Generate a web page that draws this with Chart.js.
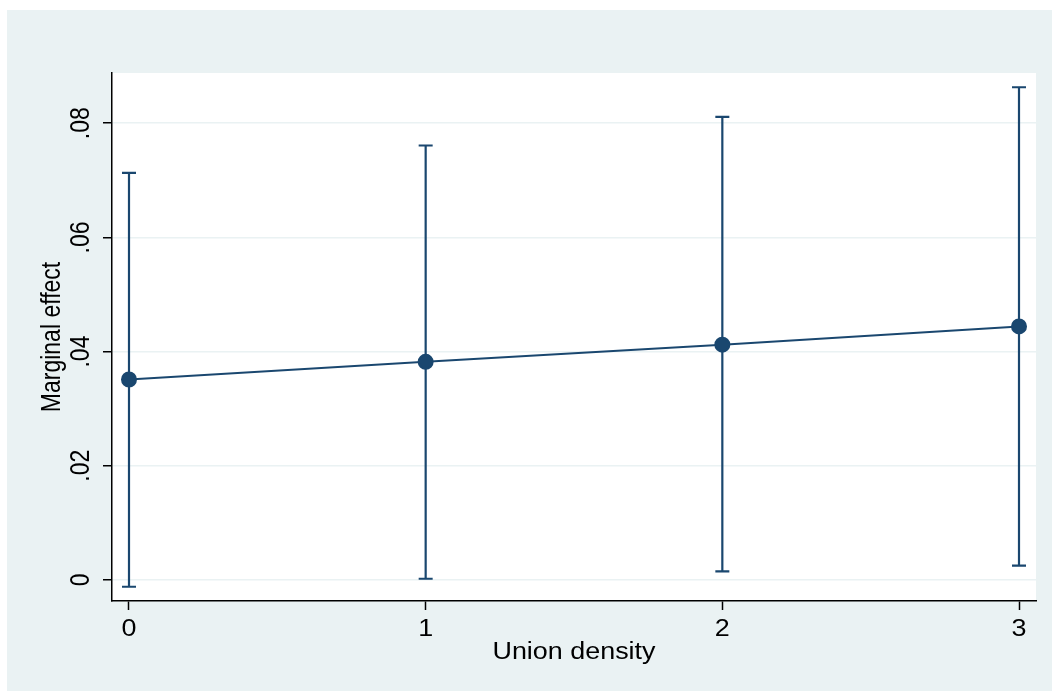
<!DOCTYPE html>
<html>
<head>
<meta charset="utf-8">
<script src="https://cdn.jsdelivr.net/npm/chart.js@4.4.1/dist/chart.umd.min.js"></script>
<style>
  html, body { margin: 0; padding: 0; background: #ffffff; }
  #bg { position: absolute; left: 7px; top: 10px; width: 1045px; height: 681px; background: #eaf2f3; }
  #bg canvas { display: block; }
</style>
</head>
<body>
<div id="bg"><canvas id="c" width="1045" height="681"></canvas></div>
<script>
// Data
const unionDensity = [0, 1, 2, 3];
const marginalEffect = [0.0351, 0.0382, 0.0412, 0.0444];
const ciUpper = [0.0713, 0.0761, 0.0811, 0.0863];
const ciLower = [-0.0012, 0.0002, 0.0015, 0.0025];
const yTickValues = [0, 0.02, 0.04, 0.06, 0.08];
const yTickLabels = ['0', '.02', '.04', '.06', '.08'];
const xTickValues = [0, 1, 2, 3];
const xTickLabels = ['0', '1', '2', '3'];
const xTitle = 'Union density';
const yTitle = 'Marginal effect';

const NAVY = '#1a476f';
const GRID = '#eaf2f3';
const FONT = '"Liberation Sans", Arial, Helvetica, sans-serif';
const STRETCH = 1.17;

const plotBg = {
  id: 'plotBg',
  beforeDraw(chart) {
    const { ctx, chartArea: a } = chart;
    ctx.save();
    ctx.fillStyle = '#ffffff';
    ctx.fillRect(a.left, a.top, a.right - a.left, a.bottom - a.top);
    ctx.restore();
  }
};

const errorBars = {
  id: 'errorBars',
  beforeDatasetsDraw(chart) {
    const { ctx, scales: { x, y } } = chart;
    ctx.save();
    ctx.strokeStyle = NAVY;
    ctx.lineWidth = 2.2;
    ctx.lineCap = 'butt';
    for (let i = 0; i < unionDensity.length; i++) {
      const px = x.getPixelForValue(unionDensity[i]);
      const pu = y.getPixelForValue(ciUpper[i]);
      const pl = y.getPixelForValue(ciLower[i]);
      ctx.beginPath();
      ctx.moveTo(px, pu); ctx.lineTo(px, pl);
      ctx.moveTo(px - 7, pu); ctx.lineTo(px + 7, pu);
      ctx.moveTo(px - 7, pl); ctx.lineTo(px + 7, pl);
      ctx.stroke();
    }
    ctx.restore();
  }
};

const axisText = {
  id: 'axisText',
  afterDraw(chart) {
    const { ctx, scales: { x, y }, chartArea: a } = chart;
    ctx.save();
    ctx.fillStyle = '#000000';
    ctx.textAlign = 'center';
    ctx.textBaseline = 'middle';
    ctx.font = '23px ' + FONT;
    // y tick labels (rotated)
    for (let i = 0; i < yTickValues.length; i++) {
      const py = y.getPixelForValue(yTickValues[i]);
      ctx.save();
      ctx.translate(75, py);
      ctx.rotate(-Math.PI / 2);
      ctx.scale(1, STRETCH);
      ctx.fillText(yTickLabels[i], 0, 0);
      ctx.restore();
    }
    // y title
    ctx.save();
    ctx.translate(45.5, (a.top + a.bottom) / 2);
    ctx.rotate(-Math.PI / 2);
    ctx.scale(1, STRETCH);
    ctx.fillText(yTitle, 0, 0);
    ctx.restore();
    // x tick labels
    for (let i = 0; i < xTickValues.length; i++) {
      const px = x.getPixelForValue(xTickValues[i]);
      ctx.save();
      ctx.translate(px, 620);
      ctx.scale(STRETCH, 1);
      ctx.fillText(xTickLabels[i], 0, 0);
      ctx.restore();
    }
    // x title
    ctx.save();
    ctx.translate((a.left + a.right) / 2, 643);
    ctx.scale(STRETCH, 1);
    ctx.fillText(xTitle, 0, 0);
    ctx.restore();
    ctx.restore();
  }
};

new Chart(document.getElementById('c'), {
  type: 'line',
  data: {
    datasets: [{
      data: unionDensity.map((v, i) => ({ x: v, y: marginalEffect[i] })),
      borderColor: NAVY,
      backgroundColor: NAVY,
      borderWidth: 2,
      pointRadius: 7,
      pointHoverRadius: 7,
      pointBackgroundColor: NAVY,
      pointBorderColor: NAVY,
      fill: false,
      tension: 0
    }]
  },
  options: {
    responsive: false,
    animation: false,
    devicePixelRatio: 1,
    layout: { padding: { top: 63, right: 16, left: 0, bottom: 0 } },
    plugins: { legend: { display: false }, tooltip: { enabled: false } },
    scales: {
      x: {
        type: 'linear',
        min: -0.0573,
        max: 3.0573,
        afterBuildTicks(s) { s.ticks = xTickValues.map(v => ({ value: v })); },
        afterFit(s) { s.height = 90; },
        ticks: { display: false },
        grid: { drawOnChartArea: false, drawTicks: true, tickLength: 9, tickColor: '#000000', tickWidth: 1.5 },
        border: { display: true, color: '#000000', width: 1.5 }
      },
      y: {
        type: 'linear',
        min: -0.0037,
        max: 0.0888,
        afterBuildTicks(s) { s.ticks = yTickValues.map(v => ({ value: v })); },
        afterFit(s) { s.width = 105; },
        ticks: { display: false },
        grid: { color: GRID, lineWidth: 1.5, drawTicks: true, tickLength: 9, tickColor: '#000000', tickWidth: 1.5 },
        border: { display: true, color: '#000000', width: 1.5 }
      }
    }
  },
  plugins: [plotBg, errorBars, axisText]
});
</script>
</body>
</html>
